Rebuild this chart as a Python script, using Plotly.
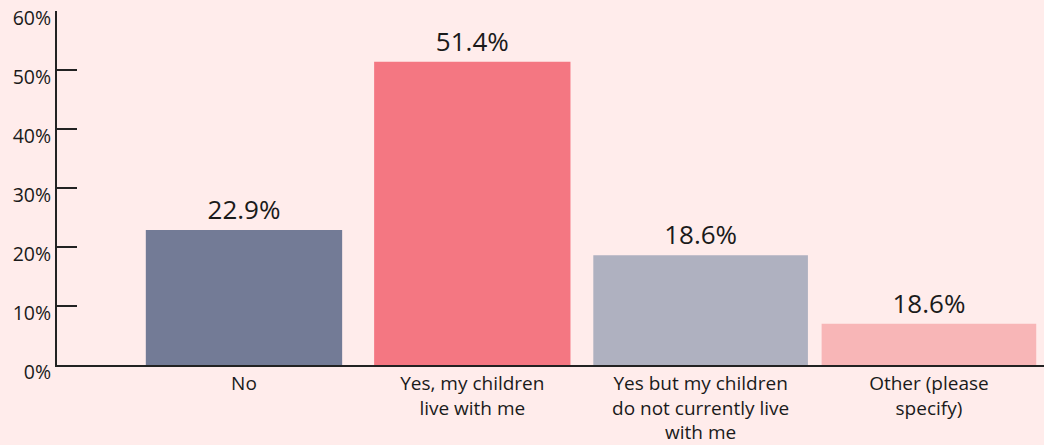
import plotly.graph_objects as go

categories = ["No", "Yes, my children<br>live with me",
              "Yes but my children<br>do not currently live<br>with me",
              "Other (please<br>specify)"]
values = [22.9, 51.4, 18.6, 7.0]
value_labels = ["22.9%", "51.4%", "18.6%", "18.6%"]
colors = ["#737B96", "#F47782", "#AFB1C0", "#F8B6B7"]
bar_widths = [0.86, 0.86, 0.94, 0.94]
y_ticks = [0, 10, 20, 30, 40, 50, 60]
y_tick_labels = ["0%", "10%", "20%", "30%", "40%", "50%", "60%"]

fig = go.Figure(go.Bar(
    x=categories, y=values, marker=dict(color=colors, line=dict(width=0)),
    width=bar_widths, text=value_labels, textposition="outside",
    cliponaxis=False,
    textfont=dict(size=26, color="#1a1a1a", family="Open Sans"),
))

fig.update_layout(
    width=1044, height=445,
    margin=dict(l=57, r=0, t=11, b=75),
    paper_bgcolor="#FFECEB", plot_bgcolor="#FFECEB",
    font=dict(family="Open Sans", color="#1a1a1a"),
    showlegend=False,
    bargap=0.1,
    xaxis=dict(range=[-0.819, 3.504], showgrid=False, showline=True,
               linecolor="#222222", linewidth=2, ticks="",
               tickfont=dict(size=19, color="#1a1a1a"), fixedrange=True),
    yaxis=dict(range=[0, 60], tickvals=y_ticks, ticktext=y_tick_labels,
               showgrid=False, zeroline=False, showline=True,
               linecolor="#222222", linewidth=2, ticks="inside", ticklen=20,
               tickwidth=2, tickcolor="#222222", ticklabelshift=7,
               ticklabeloverflow="allow",
               tickfont=dict(size=19.5, color="#1a1a1a")),
)

fig.write_html("out.html")
